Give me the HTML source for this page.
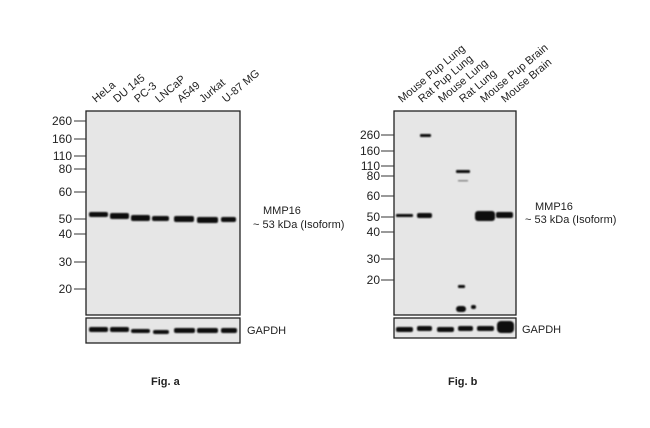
<!DOCTYPE html>
<html><head><style>body{margin:0;background:#fff}svg{display:block}text{font-family:"Liberation Sans",Arial,sans-serif;fill:#222}</style></head><body>
<svg width="650" height="428" viewBox="0 0 650 428" xmlns="http://www.w3.org/2000/svg">
<defs><filter id="b" x="-20%" y="-100%" width="140%" height="300%"><feGaussianBlur stdDeviation="0.8"/></filter></defs>
<rect x="86" y="111" width="154" height="204" fill="#e6e6e6" stroke="#222" stroke-width="1.3"/>
<rect x="86" y="318" width="154" height="25" fill="#e6e6e6" stroke="#222" stroke-width="1.3"/>
<g stroke="#333" stroke-width="1">
<line x1="74" y1="121" x2="86" y2="121"/><line x1="74" y1="139" x2="86" y2="139"/><line x1="74" y1="156" x2="86" y2="156"/><line x1="74" y1="169" x2="86" y2="169"/><line x1="74" y1="192" x2="86" y2="192"/><line x1="74" y1="219" x2="86" y2="219"/><line x1="74" y1="234" x2="86" y2="234"/><line x1="74" y1="262" x2="86" y2="262"/><line x1="74" y1="289" x2="86" y2="289"/>
</g>
<g font-size="12" text-anchor="end">
<text x="72" y="125">260</text><text x="72" y="143">160</text><text x="72" y="160">110</text><text x="72" y="173">80</text><text x="72" y="196">60</text><text x="72" y="223">50</text><text x="72" y="238">40</text><text x="72" y="266">30</text><text x="72" y="293">20</text>
</g>
<g fill="#111" filter="url(#b)">
<rect x="89" y="212" width="19" height="5" rx="2"/><rect x="110" y="213" width="19" height="6" rx="2"/><rect x="131" y="215" width="19" height="6" rx="2"/><rect x="152" y="216" width="17" height="5" rx="2"/><rect x="174" y="216" width="20" height="6" rx="2"/><rect x="197" y="217" width="21" height="6" rx="2"/><rect x="221" y="217" width="15" height="5" rx="2"/>
<rect x="89" y="327" width="19" height="5" rx="2"/><rect x="110" y="327" width="19" height="5" rx="2"/><rect x="131" y="329" width="19" height="4" rx="2"/><rect x="153" y="330" width="16" height="4" rx="2"/><rect x="174" y="328" width="21" height="5" rx="2"/><rect x="197" y="328" width="21" height="5" rx="2"/><rect x="221" y="328" width="16" height="5" rx="2"/>
</g>
<g font-size="11">
<text transform="translate(96,103) rotate(-40)">HeLa</text>
<text transform="translate(117,103) rotate(-40)">DU 145</text>
<text transform="translate(138,103) rotate(-40)">PC-3</text>
<text transform="translate(159,103) rotate(-40)">LNCaP</text>
<text transform="translate(181,103) rotate(-40)">A549</text>
<text transform="translate(203,103) rotate(-40)">Jurkat</text>
<text transform="translate(226,103) rotate(-40)">U-87 MG</text>
</g>
<text x="263" y="214" font-size="11">MMP16</text>
<text x="253" y="228" font-size="11">~ 53 kDa  (Isoform)</text>
<text x="247" y="334" font-size="11">GAPDH</text>
<text x="151" y="385" font-size="11" font-weight="bold">Fig. a</text>
<rect x="394" y="111" width="122" height="204" fill="#e6e6e6" stroke="#222" stroke-width="1.3"/>
<rect x="394" y="318" width="122" height="20" fill="#e6e6e6" stroke="#222" stroke-width="1.3"/>
<g stroke="#333" stroke-width="1">
<line x1="381" y1="135" x2="394" y2="135"/><line x1="381" y1="151" x2="394" y2="151"/><line x1="381" y1="166" x2="394" y2="166"/><line x1="381" y1="176" x2="394" y2="176"/><line x1="381" y1="196" x2="394" y2="196"/><line x1="381" y1="217" x2="394" y2="217"/><line x1="381" y1="232" x2="394" y2="232"/><line x1="381" y1="259" x2="394" y2="259"/><line x1="381" y1="280" x2="394" y2="280"/>
</g>
<g font-size="12" text-anchor="end">
<text x="380" y="139">260</text><text x="380" y="155">160</text><text x="380" y="170">110</text><text x="380" y="180">80</text><text x="380" y="200">60</text><text x="380" y="221">50</text><text x="380" y="236">40</text><text x="380" y="263">30</text><text x="380" y="284">20</text>
</g>
<g fill="#111" filter="url(#b)">
<rect x="396" y="214" width="17" height="3" rx="1"/><rect x="417" y="213" width="15" height="5" rx="2"/><rect x="420" y="134" width="11" height="3" rx="1"/>
<rect x="456" y="170" width="14" height="3" rx="1"/><rect x="458" y="180" width="10" height="1.5" fill="#888"/>
<rect x="458" y="285" width="7" height="3" rx="1"/><rect x="456" y="306" width="10" height="6" rx="3"/><rect x="471" y="305" width="5" height="4" rx="2"/>
<rect x="475" y="211" width="20" height="10" rx="3"/><rect x="496" y="212" width="17" height="6" rx="2"/>
<rect x="396" y="327" width="17" height="5" rx="2"/><rect x="417" y="326" width="15" height="5" rx="2"/><rect x="437" y="327" width="17" height="5" rx="2"/><rect x="458" y="326" width="15" height="5" rx="2"/><rect x="477" y="326" width="17" height="5" rx="2"/><rect x="497" y="321" width="17" height="12" rx="4"/>
</g>
<g font-size="11">
<text transform="translate(402,103) rotate(-40)">Mouse Pup Lung</text>
<text transform="translate(422,103) rotate(-40)">Rat Pup Lung</text>
<text transform="translate(442,103) rotate(-40)">Mouse Lung</text>
<text transform="translate(463,103) rotate(-40)">Rat Lung</text>
<text transform="translate(484,103) rotate(-40)">Mouse Pup Brain</text>
<text transform="translate(505,103) rotate(-40)">Mouse Brain</text>
</g>
<text x="535" y="210" font-size="11">MMP16</text>
<text x="525" y="223" font-size="11">~ 53 kDa  (Isoform)</text>
<text x="522" y="333" font-size="11">GAPDH</text>
<text x="448" y="385" font-size="11" font-weight="bold">Fig. b</text>
</svg>
</body></html>
